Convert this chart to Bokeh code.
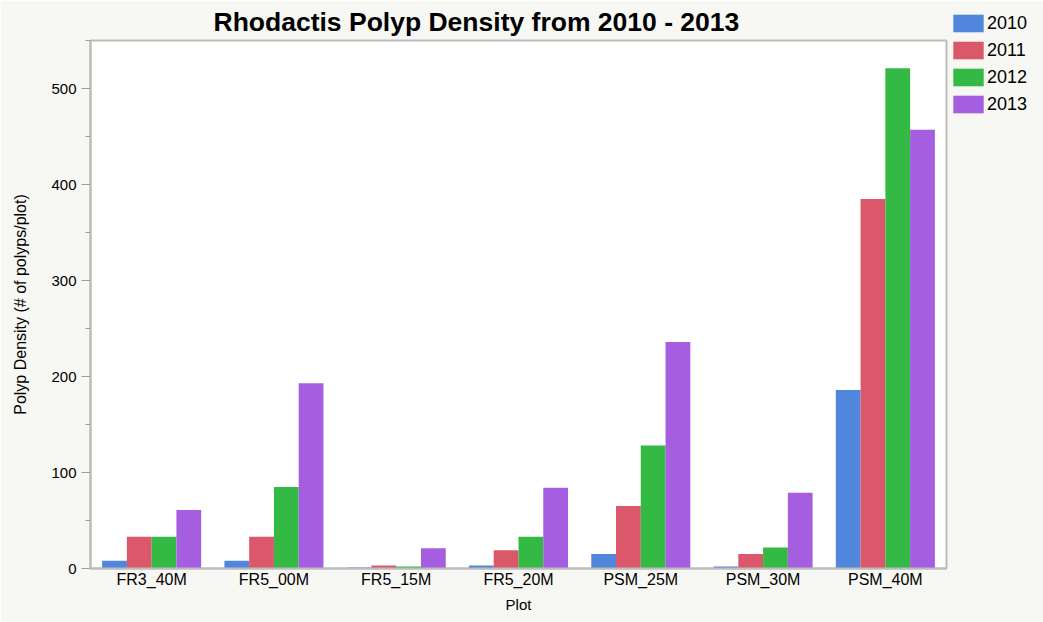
from bokeh.plotting import figure
from bokeh.models import FactorRange, Range1d, FixedTicker, Legend, LegendItem, ColumnDataSource
from bokeh.transform import dodge
from bokeh.embed import file_html
from bokeh.resources import INLINE

plots = ["FR3_40M", "FR5_00M", "FR5_15M", "FR5_20M", "PSM_25M", "PSM_30M", "PSM_40M"]
years = ["2010", "2011", "2012", "2013"]
d2010 = [8, 8, 1, 3, 15, 2, 186]
d2011 = [33, 33, 3, 19, 65, 15, 385]
d2012 = [33, 85, 2, 33, 128, 22, 521]
d2013 = [61, 193, 21, 84, 236, 79, 457]
colors = ["#5087dc", "#db576a", "#34ba44", "#a55ee0"]
y_ticks = [0, 100, 200, 300, 400, 500]
y_minor = [50, 150, 250, 350, 450, 550]

FONT = "Liberation Sans"
BG = "#f7f7f3"

src = ColumnDataSource(dict(plot=plots, y2010=d2010, y2011=d2011, y2012=d2012, y2013=d2013))

p = figure(frame_width=856, frame_height=528, x_range=FactorRange(*plots, range_padding=0),
           y_range=Range1d(0, 550), output_backend="svg", toolbar_location=None,
           min_border_left=90, min_border_right=97, min_border_top=40, min_border_bottom=54,
           background_fill_color="white", border_fill_color=BG,
           title="Rhodactis Polyp Density from 2010 - 2013")

w = 0.2025
renderers = []
for i, (yr, col) in enumerate(zip(years, colors)):
    r = p.vbar(x=dodge("plot", (i - 1.5) * w, range=p.x_range), top="y" + yr, width=w,
               source=src, fill_color=col, line_color=None)
    renderers.append(r)

p.title.text_font = FONT
p.title.text_font_size = "26.5px"
p.title.text_font_style = "bold"
p.title.align = "left"
p.title.offset = 123
p.title.standoff = 8
p.title.text_color = "black"

p.xgrid.grid_line_color = None
p.ygrid.grid_line_color = None
p.outline_line_color = "#bcbcbc"
p.outline_line_width = 2

p.yaxis.ticker = FixedTicker(ticks=y_ticks, minor_ticks=y_minor)
p.yaxis.axis_line_color = "#bcbcbc"
p.yaxis.axis_line_width = 2
p.yaxis.major_tick_line_color = "#a0a0a0"
p.yaxis.minor_tick_line_color = "#a0a0a0"
p.yaxis.major_tick_out = 9
p.yaxis.major_tick_in = 0
p.yaxis.minor_tick_out = 5
p.yaxis.minor_tick_in = 0
p.yaxis.major_label_text_font = FONT
p.yaxis.major_label_text_font_size = "15px"
p.yaxis.major_label_text_color = "black"
p.yaxis.axis_label = "Polyp Density (# of polyps/plot)"
p.yaxis.axis_label_text_font = FONT
p.yaxis.axis_label_text_font_size = "16px"
p.yaxis.axis_label_text_font_style = "normal"
p.yaxis.axis_label_text_color = "black"
p.yaxis.axis_label_standoff = 19

p.xaxis.axis_line_color = "#bcbcbc"
p.xaxis.axis_line_width = 2
p.xaxis.major_tick_line_color = None
p.xaxis.minor_tick_line_color = None
p.xaxis.major_tick_out = 0
p.xaxis.major_tick_in = 0
p.xaxis.major_label_text_font = FONT
p.xaxis.major_label_text_font_size = "16px"
p.xaxis.major_label_text_color = "black"
p.xaxis.major_label_standoff = 2
p.xaxis.axis_label = "Plot"
p.xaxis.axis_label_text_font = FONT
p.xaxis.axis_label_text_font_size = "15px"
p.xaxis.axis_label_text_font_style = "normal"
p.xaxis.axis_label_text_color = "black"
p.xaxis.axis_label_standoff = 5

legend = Legend(items=[LegendItem(label=yr, renderers=[r]) for yr, r in zip(years, renderers)],
                location=(3, 453), orientation="vertical",
                glyph_width=38, glyph_height=22, label_height=18, spacing=5,
                label_standoff=0, padding=0, margin=0,
                label_text_font=FONT, label_text_font_size="18px", label_text_color="black",
                background_fill_color=BG, background_fill_alpha=1.0,
                border_line_color=None)
p.add_layout(legend, "right")

open("out.html", "w").write(file_html(p, INLINE))
